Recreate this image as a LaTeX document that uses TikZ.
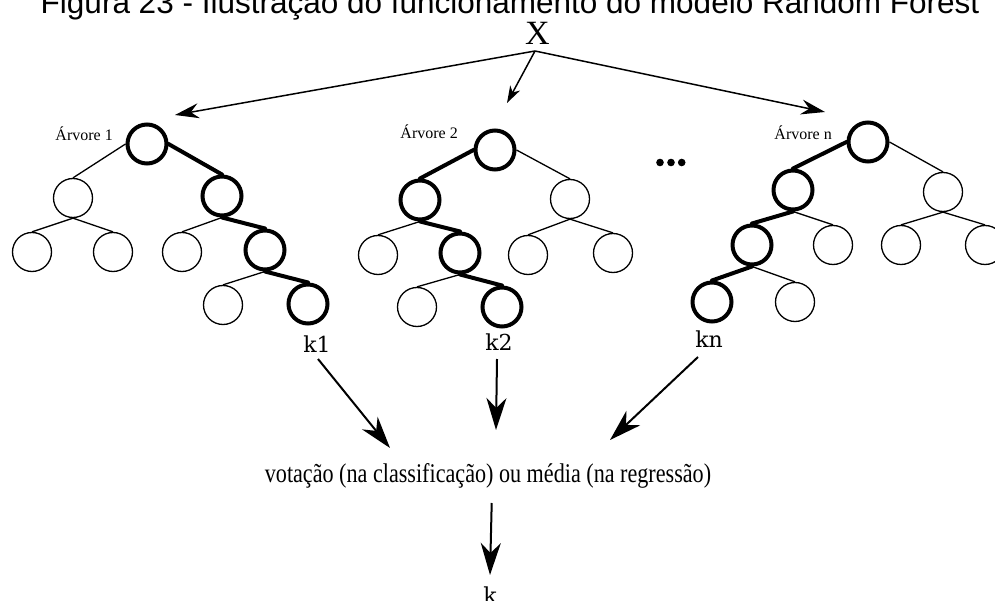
\documentclass[tikz,border=0pt]{standalone}
\usepackage{fontspec}
\setmainfont{Liberation Serif}
\newfontfamily\titlefont{Liberation Sans}
\newfontfamily\labelfont{DejaVu Serif}
\newfontfamily\aggfont[FakeStretch=0.82]{Liberation Serif}
\usetikzlibrary{arrows.meta}
\begin{document}
\begin{tikzpicture}[x=1pt,y=-1pt,
  nd/.style={circle, draw, line width=1.3pt, minimum size=39pt, inner sep=0pt},
  bnd/.style={nd, line width=4pt},
  thinedge/.style={line width=1.3pt},
  boldedge/.style={line width=4pt, line cap=round},
  treelabel/.style={font=\fontsize{16}{18}\selectfont, inner sep=0pt, anchor=base east},
  klabel/.style={font=\labelfont\fontsize{22}{24}\selectfont, inner sep=0pt, anchor=base},
  toparrow/.style={line width=1.5pt, -{Stealth[length=24pt, width=15pt, inset=8pt]}},
  botarrow/.style={line width=2pt, -{Stealth[length=32pt, width=20pt, inset=10pt]}}
]
\useasboundingbox (0,0) rectangle (995,601);
\clip (0,0) rectangle (995,601);

% caption and input
\node[font=\titlefont\fontsize{31.5}{36}\selectfont, inner sep=0pt, anchor=base] (title) at (510,14)
  {Figura 23 - Ilustração do funcionamento do modelo Random Forest};
\node[font=\fontsize{34}{36}\selectfont, inner sep=0pt] (x) at (537.5,33) {X};
\coordinate (xo) at (535,51);
\coordinate (t1) at (175,115);
\coordinate (t2) at (507,103);
\coordinate (tn) at (825,112);
\draw[toparrow] (xo) -- (t1);
\draw[toparrow, -{Stealth[length=17pt, width=11pt, inset=5pt]}] (xo) -- (t2);
\draw[toparrow] (xo) -- (tn);

% tree 1
\node[treelabel] (l1) at (113,141) {Árvore 1};
\node[bnd] (r1) at (147,144) {};
\node[nd]  (a1) at (73,198) {};
\node[bnd] (b1) at (222,196) {};
\node[nd]  (c1) at (32,252) {};
\node[nd]  (d1) at (113,252) {};
\node[nd]  (e1) at (182,252) {};
\node[bnd] (f1) at (265,250) {};
\node[nd]  (g1) at (223,305) {};
\node[bnd] (h1) at (308,304) {};
\draw[thinedge] (r1.west) -- (a1.north);
\draw[boldedge] (r1.east) -- (b1.north);
\draw[thinedge] (a1.south) -- (c1.north);
\draw[thinedge] (a1.south) -- (d1.north);
\draw[thinedge] (b1.south) -- (e1.north);
\draw[boldedge] (b1.south) -- (f1.north);
\draw[thinedge] (f1.south) -- (g1.north);
\draw[boldedge] (f1.south) -- (h1.north);

% tree 2
\node[treelabel] (l2) at (458,139) {Árvore 2};
\node[bnd] (r2) at (495,150) {};
\node[bnd] (a2) at (420,200) {};
\node[nd]  (b2) at (570,199) {};
\node[nd]  (c2) at (378,255) {};
\node[bnd] (d2) at (460,253) {};
\node[nd]  (e2) at (528,255) {};
\node[nd]  (f2) at (613,253) {};
\node[nd]  (g2) at (417,307) {};
\node[bnd] (h2) at (502,307) {};
\draw[boldedge] (r2.west) -- (a2.north);
\draw[thinedge] (r2.east) -- (b2.north);
\draw[thinedge] (a2.south) -- (c2.north);
\draw[boldedge] (a2.south) -- (d2.north);
\draw[thinedge] (b2.south) -- (e2.north);
\draw[thinedge] (b2.south) -- (f2.north);
\draw[thinedge] (d2.south) -- (g2.north);
\draw[boldedge] (d2.south) -- (h2.north);

% ellipsis between trees
\fill (660,162.5) circle (3.8) (671,162.5) circle (3.8) (681.7,162.5) circle (3.8);

% tree n
\node[treelabel] (ln) at (832,140) {Árvore n};
\node[bnd] (rn) at (868,142) {};
\node[bnd] (an) at (793,190) {};
\node[nd]  (bn) at (943,192) {};
\node[bnd] (cn) at (752,245) {};
\node[nd]  (dn) at (833,245) {};
\node[nd]  (en) at (901,245) {};
\node[nd]  (fn) at (985,245) {};
\node[bnd] (gn) at (712,302) {};
\node[nd]  (hn) at (795,302) {};
\draw[boldedge] (rn.west) -- (an.north);
\draw[thinedge] (rn.east) -- (bn.north);
\draw[boldedge] (an.south) -- (cn.north);
\draw[thinedge] (an.south) -- (dn.north);
\draw[thinedge] (bn.south) -- (en.north);
\draw[thinedge] (bn.south) -- (fn.north);
\draw[boldedge] (cn.south) -- (gn.north);
\draw[thinedge] (cn.south) -- (hn.north);

% tree outputs
\node[klabel] (k1) at (317,352) {k1};
\node[klabel] (k2) at (499,350) {k2};
\node[klabel] (kn) at (709,347) {kn};
\coordinate (s1) at (318,359);
\coordinate (s2) at (497,359);
\coordinate (sn) at (698,357);
\coordinate (v1) at (390,448);
\coordinate (v2) at (496,430);
\coordinate (vn) at (610,440);
\draw[botarrow] (s1) -- (v1);
\draw[botarrow] (s2) -- (v2);
\draw[botarrow] (sn) -- (vn);

% aggregation
\node[font=\aggfont\fontsize{27}{30}\selectfont, inner sep=0pt, anchor=base] (agg) at (488,482)
  {votação (na classificação) ou média (na regressão)};
\coordinate (ks) at (491.7,503);
\coordinate (ktip) at (490,575);
\draw[botarrow] (ks) -- (ktip);
\node[klabel] (k) at (490,603) {k};
\end{tikzpicture}
\end{document}
